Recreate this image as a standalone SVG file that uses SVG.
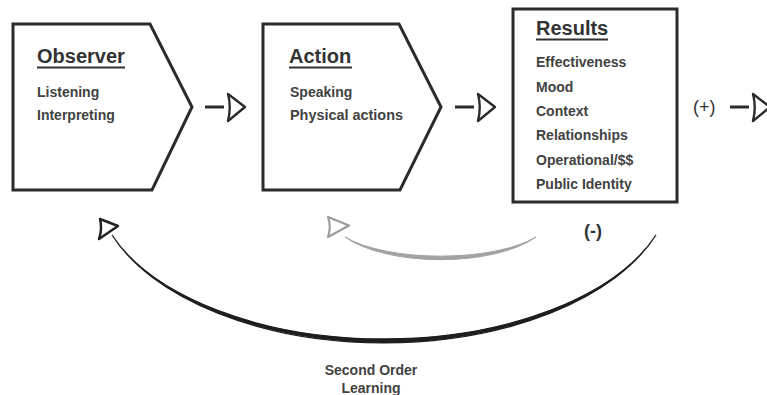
<svg xmlns="http://www.w3.org/2000/svg" width="767" height="395" viewBox="0 0 767 395">
  <style>
    .box { fill: #ffffff; stroke: #2b2b2b; stroke-width: 3; stroke-linejoin: miter; }
    .title { font-family: "Liberation Sans", Arial, sans-serif; font-weight: bold; font-size: 20px; fill: #333333; }
    .item { font-family: "Liberation Sans", Arial, sans-serif; font-weight: bold; font-size: 14px; fill: #424242; }
    .uline { stroke: #333333; stroke-width: 2.2; }
    .sign { font-family: "Liberation Sans", Arial, sans-serif; fill: #333333; }
    .dash { stroke: #2b2b2b; stroke-width: 3; }
    .head { fill: none; stroke: #2b2b2b; stroke-width: 2.4; stroke-linejoin: round; }
  </style>
  <defs>
    <!-- forward flow arrow: short dash followed by an open arrowhead -->
    <g id="fwd">
      <line class="dash" x1="0" y1="0" x2="19" y2="0"/>
      <path class="head" d="M23,-13 L40,0 L23,14 Q26.5,0 23,-13 Z"/>
    </g>
  </defs>

  <rect width="767" height="395" fill="#ffffff"/>

  <!-- Observer stage -->
  <g id="observer">
    <path class="box" d="M13,24 L150,24 L192,107 L152,190 L13,190 Z"/>
    <text class="title" x="37" y="63">Observer</text>
    <line class="uline" x1="37" y1="67.5" x2="125" y2="67.5"/>
    <text class="item" x="37" y="97">Listening</text>
    <text class="item" x="37" y="120">Interpreting</text>
  </g>

  <!-- Action stage -->
  <g id="action">
    <path class="box" d="M263,24 L399,24 L441,107 L400,190 L263,190 Z"/>
    <text class="title" x="289" y="63">Action</text>
    <line class="uline" x1="289" y1="67.5" x2="352" y2="67.5"/>
    <text class="item" x="290" y="97">Speaking</text>
    <text class="item" x="290" y="120" textLength="113" lengthAdjust="spacingAndGlyphs">Physical actions</text>
  </g>

  <!-- Results stage -->
  <g id="results">
    <rect class="box" x="513" y="9" width="164" height="193" stroke-width="3.5"/>
    <text class="title" x="536" y="35">Results</text>
    <line class="uline" x1="536" y1="39.5" x2="608" y2="39.5"/>
    <text class="item" x="536" y="67">Effectiveness</text>
    <text class="item" x="536" y="91.5">Mood</text>
    <text class="item" x="536" y="116">Context</text>
    <text class="item" x="536" y="140">Relationships</text>
    <text class="item" x="536" y="164.5">Operational/$$</text>
    <text class="item" x="536" y="189">Public Identity</text>
  </g>

  <!-- Loop labels -->
  <g id="labels">
    <text class="sign" x="693" y="112.5" font-size="18">(+)</text>
    <text class="sign" x="584" y="237" font-size="18" font-weight="bold">(-)</text>
    <text class="item" x="371" y="375" font-size="14.5" text-anchor="middle">Second Order</text>
    <text class="item" x="371" y="393" font-size="14.5" text-anchor="middle">Learning</text>
  </g>

  <!-- Connectors -->
  <g id="connectors">
    <use href="#fwd" x="205" y="107"/>
    <use href="#fwd" x="455" y="107"/>
    <use href="#fwd" x="730" y="107"/>

    <!-- first-order loop: results back to action (grey, tapered) -->
    <path d="M536,237 A110,45 0 0 1 345,237 A110,38 0 0 0 536,237 Z" fill="#a2a2a2" stroke="#a2a2a2" stroke-width="1"/>
    <path d="M328,217 L349,225.5 L328,237 Q331.5,227 328,217 Z" fill="none" stroke="#9c9c9c" stroke-width="2.2" stroke-linejoin="round"/>

    <!-- second-order loop: results back to observer (black, tapered) -->
    <path d="M656,235 A289,163 0 0 1 112,235 A289,157 0 0 0 656,235 Z" fill="#1e1e1e" stroke="#1e1e1e" stroke-width="1.2"/>
    <path d="M100,219 L118,226 L99,239 Q102.5,229 100,219 Z" fill="none" stroke="#222222" stroke-width="2.5" stroke-linejoin="round"/>
  </g>
</svg>
